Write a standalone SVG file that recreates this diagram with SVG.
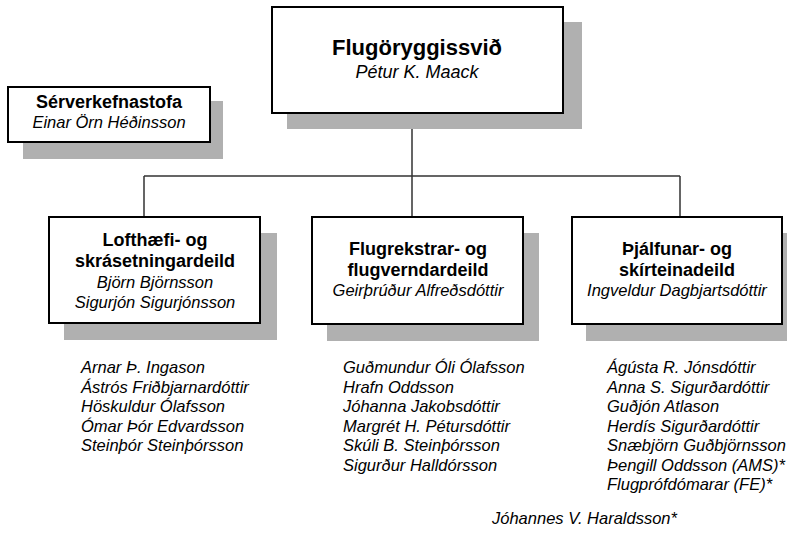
<svg xmlns="http://www.w3.org/2000/svg" width="787" height="533" viewBox="0 0 787 533">
<style>
.sh{fill:#b0b0b0}
.bx{fill:#fff;stroke:#000;stroke-width:2}
.t{font-family:"Liberation Sans",Arial,sans-serif;fill:#000;text-anchor:middle}
.b{font-weight:bold;font-size:18px}
.i{font-style:italic;font-size:16.5px}
.l{font-family:"Liberation Sans",Arial,sans-serif;font-style:italic;font-size:16.5px;fill:#000}
.c{fill:none;stroke:#333;stroke-width:1.5}
</style>
<rect width="787" height="533" fill="#fff"/>
<g id="connectors">
<path class="c" d="M412 113V176M144 176H680M144 176V217M412 176V217M680 176V217"/>
</g>
<g id="flugoryggissvid">
<rect class="sh" x="287" y="22" width="295" height="107"/>
<rect class="bx" x="272" y="7" width="291" height="106"/>
<text class="t" x="417" y="55" font-weight="bold" font-size="22">Flugöryggissvið</text>
<text class="t" x="417" y="78" font-style="italic" font-size="18">Pétur K. Maack</text>
</g>
<g id="serverkefnastofa">
<rect class="sh" x="23" y="101" width="200" height="58"/>
<rect class="bx" x="8" y="87" width="202" height="55"/>
<text class="t b" x="109" y="108" font-size="18.5">Sérverkefnastofa</text>
<text class="t i" x="109" y="128">Einar Örn Héðinsson</text>
</g>
<g id="lofthaefi">
<rect class="sh" x="64" y="233" width="213" height="107"/>
<rect class="bx" x="49" y="217" width="211" height="106"/>
<text class="t b" x="155" y="246">Lofthæfi- og</text>
<text class="t b" x="155" y="267">skrásetningardeild</text>
<text class="t i" x="155" y="288">Björn Björnsson</text>
<text class="t i" x="155" y="308">Sigurjón Sigurjónsson</text>
</g>
<g id="flugrekstrar">
<rect class="sh" x="327" y="233" width="212" height="108"/>
<rect class="bx" x="312" y="217" width="211" height="107"/>
<text class="t b" x="418" y="255">Flugrekstrar- og</text>
<text class="t b" x="418" y="276">flugverndardeild</text>
<text class="t i" x="418" y="296">Geirþrúður Alfreðsdóttir</text>
</g>
<g id="thjalfunar">
<rect class="sh" x="586" y="233" width="201" height="108"/>
<rect class="bx" x="572" y="217" width="210" height="107"/>
<text class="t b" x="677" y="255">Þjálfunar- og</text>
<text class="t b" x="677" y="276">skírteinadeild</text>
<text class="t i" x="677" y="296">Ingveldur Dagbjartsdóttir</text>
</g>
<g id="list-lofthaefi">
<text class="l" x="81" y="373">Arnar Þ. Ingason</text>
<text class="l" x="81" y="392.5">Ástrós Friðbjarnardóttir</text>
<text class="l" x="81" y="412">Höskuldur Ólafsson</text>
<text class="l" x="81" y="431.5">Ómar Þór Edvardsson</text>
<text class="l" x="81" y="451">Steinþór Steinþórsson</text>
</g>
<g id="list-flugrekstrar">
<text class="l" x="343" y="373">Guðmundur Óli Ólafsson</text>
<text class="l" x="343" y="392.5">Hrafn Oddsson</text>
<text class="l" x="343" y="412">Jóhanna Jakobsdóttir</text>
<text class="l" x="343" y="431.5">Margrét H. Pétursdóttir</text>
<text class="l" x="343" y="451">Skúli B. Steinþórsson</text>
<text class="l" x="343" y="470.5">Sigurður Halldórsson</text>
</g>
<g id="list-thjalfunar">
<text class="l" x="607" y="373">Ágústa R. Jónsdóttir</text>
<text class="l" x="607" y="392.5">Anna S. Sigurðardóttir</text>
<text class="l" x="607" y="412">Guðjón Atlason</text>
<text class="l" x="607" y="431.5">Herdís Sigurðardóttir</text>
<text class="l" x="607" y="451">Snæbjörn Guðbjörnsson</text>
<text class="l" x="607" y="470.5">Þengill Oddsson (AMS)*</text>
<text class="l" x="607" y="490">Flugprófdómarar (FE)*</text>
<text class="l" x="492" y="524">Jóhannes V. Haraldsson*</text>
</g>
</svg>
